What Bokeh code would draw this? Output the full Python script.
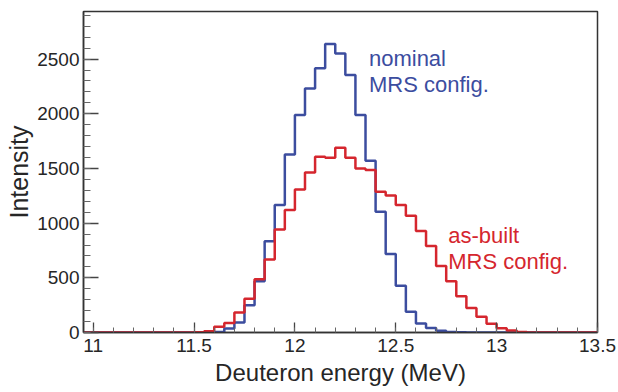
import numpy as np
from bokeh.plotting import figure
from bokeh.models import Range1d, FixedTicker, Label
from bokeh.embed import file_html
from bokeh.resources import INLINE

# ---- data (bins of 0.05 MeV from 10.95 to 13.5) ----
bin_start = 10.95
bin_width = 0.05
nominal = [0, 0, 0, 0, 0, 0, 0, 0, 0, 0, 0, 0,
           2, 5, 36, 91, 250, 469, 835, 1165, 1628, 1988, 2232, 2415, 2638,
           2552, 2354, 1988, 1570, 1104, 718, 427, 189, 82, 42, 15, 5, 2,
           0, 0, 0, 0, 0, 0, 0, 0, 0, 0, 0, 0, 0]
as_built = [0, 0, 0, 0, 0, 0, 0, 0, 0, 0, 0, 2,
            12, 52, 88, 183, 308, 488, 668, 942, 1119, 1308, 1464, 1607, 1598,
            1689, 1598, 1500, 1485, 1287, 1252, 1165, 1067, 927, 790, 607, 469, 332,
            225, 143, 80, 40, 18, 5, 1, 0, 0, 0, 0, 0, 0]
x_ticks = [11, 11.5, 12, 12.5, 13, 13.5]
x_tick_labels = ["11", "11.5", "12", "12.5", "13", "13.5"]
y_ticks = [0, 500, 1000, 1500, 2000, 2500]

edges = bin_start + bin_width * np.arange(len(nominal) + 1)

BLUE = "#3c4d9f"
RED = "#d5262e"
FONT = "Liberation Sans"
AX = "#333333"

p = figure(width=618, height=392, output_backend="svg", toolbar_location=None,
           x_range=Range1d(10.952, 13.5), y_range=Range1d(0, 2935),
           min_border_left=83, min_border_right=21, min_border_top=11,
           min_border_bottom=60)
p.grid.visible = False
p.outline_line_color = AX
p.outline_line_width = 1.5
p.background_fill_color = "white"
p.border_fill_color = "white"

def stairs(vals):
    return list(vals) + [vals[-1]]

p.step(x=edges, y=stairs(nominal), mode="after", line_color=BLUE, line_width=2.5)
p.step(x=edges, y=stairs(as_built), mode="after", line_color=RED, line_width=2.5)

# x axis
p.xaxis.ticker = FixedTicker(ticks=x_ticks,
                             minor_ticks=list(np.round(np.arange(11.0, 13.51, 0.1), 2)))
p.xaxis.major_label_overrides = {t: l for t, l in zip(x_ticks, x_tick_labels)}
p.xaxis.axis_label = "Deuteron energy (MeV)"
# y axis
p.yaxis.ticker = FixedTicker(ticks=y_ticks, minor_ticks=list(range(0, 2901, 100)))
p.yaxis.axis_label = "Intensity"

for ax in (p.xaxis[0], p.yaxis[0]):
    ax.axis_line_color = AX
    ax.axis_line_width = 1.5
    ax.major_tick_line_color = "#444444"
    ax.minor_tick_line_color = "#666666"
    ax.major_tick_line_width = 1.3
    ax.minor_tick_line_width = 1.0
    ax.major_tick_out = 0
    ax.minor_tick_out = 0
    ax.major_label_text_font = FONT
    ax.major_label_text_font_size = "19px"
    ax.major_label_text_color = "#262626"
    ax.axis_label_text_font = FONT
    ax.axis_label_text_font_style = "normal"
    ax.axis_label_text_color = "#262626"

p.xaxis.major_tick_in = 10
p.xaxis.minor_tick_in = 5
p.xaxis.major_label_standoff = 6
p.xaxis.axis_label_standoff = 4
p.xaxis.axis_label_text_font_size = "24px"

p.yaxis.major_tick_in = 15
p.yaxis.minor_tick_in = 7
p.yaxis.major_label_standoff = 4
p.yaxis.axis_label_standoff = 1
p.yaxis.axis_label_text_font_size = "25px"

def add_label(x, y, text, color):
    p.add_layout(Label(x=x, y=y, text=text, text_color=color, text_font=FONT,
                       text_font_size="22px", text_baseline="alphabetic"))

add_label(12.367, 2507, "nominal", BLUE)
add_label(12.367, 2263, "MRS config.", BLUE)
add_label(12.76, 890, "as-built", RED)
add_label(12.76, 646, "MRS config.", RED)

open("out.html", "w").write(file_html(p, INLINE))
